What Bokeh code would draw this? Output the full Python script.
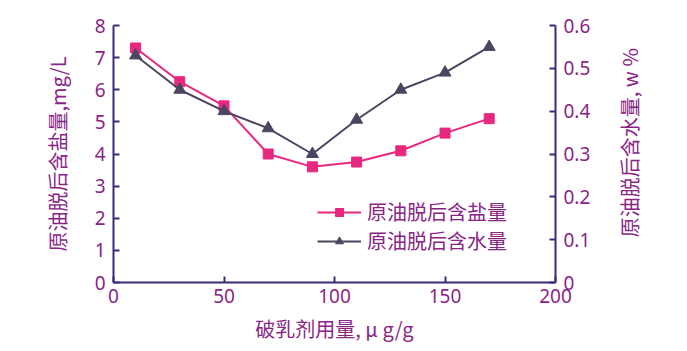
import math
from bokeh.plotting import figure
from bokeh.layouts import row
from bokeh.models import LinearAxis, Range1d, FixedTicker, Legend, LegendItem
from bokeh.core.properties import value
from bokeh.embed import file_html
from bokeh.resources import INLINE

dosage = [10, 30, 50, 70, 90, 110, 130, 150, 170]
salt = [7.3, 6.25, 5.5, 4.0, 3.6, 3.75, 4.1, 4.65, 5.1]
water = [0.53, 0.45, 0.40, 0.36, 0.30, 0.38, 0.45, 0.49, 0.55]
x_ticks = [0, 50, 100, 150, 200]
left_ticks = [0, 1, 2, 3, 4, 5, 6, 7, 8]
right_ticks = [0, 0.1, 0.2, 0.3, 0.4, 0.5, 0.6]
right_title = "原油脱后含水量, w  %"

PINK = "#E8287F"
DARK = "#4B4560"
AXIS = "#3B2A7A"
TXT = "#8A2586"
FONT = "Noto Sans"
CJK = "Noto Sans CJK SC"

p = figure(width=605, height=351, output_backend="svg", toolbar_location=None,
           x_range=Range1d(0, 200), y_range=Range1d(0, 8),
           min_border_left=113, min_border_right=50, min_border_top=25,
           min_border_bottom=69)
p.outline_line_color = None
p.xgrid.visible = False
p.ygrid.visible = False
p.extra_y_ranges = {"water": Range1d(0, 0.6)}

def style(ax):
    ax.axis_line_color = AXIS
    ax.axis_line_width = 2
    ax.major_tick_line_color = AXIS
    ax.major_tick_line_width = 2
    ax.major_tick_in = 6
    ax.major_tick_out = 0
    ax.minor_tick_line_color = None
    ax.major_label_text_color = TXT
    ax.major_label_text_font = FONT
    ax.major_label_text_font_size = "19px"
    ax.axis_label_text_color = TXT
    ax.axis_label_text_font = CJK
    ax.axis_label_text_font_size = "20px"
    ax.axis_label_text_font_style = "normal"

xa = p.xaxis[0]
style(xa)
xa.ticker = FixedTicker(ticks=x_ticks)
xa.axis_label = "破乳剂用量, μ g/g"
xa.major_label_standoff = 6
xa.axis_label_standoff = 8

ya = p.yaxis[0]
style(ya)
ya.ticker = FixedTicker(ticks=left_ticks)
ya.axis_label = "原油脱后含盐量,mg/L"
ya.major_label_standoff = 8
ya.axis_label_standoff = 20

ra = LinearAxis(y_range_name="water")
style(ra)
ra.ticker = FixedTicker(ticks=right_ticks)
ra.major_label_overrides = {0: "0"}
ra.major_label_standoff = 8
p.add_layout(ra, "right")

l1 = p.line(dosage, salt, line_color=PINK, line_width=2)
m1 = p.scatter(dosage, salt, marker="square", size=10, fill_color=PINK, line_color=PINK)
l2 = p.line(dosage, water, line_color=DARK, line_width=2, y_range_name="water")
m2 = p.scatter(dosage, water, marker="triangle", size=12, fill_color=DARK, line_color=DARK,
               y_range_name="water")

legend = Legend(items=[LegendItem(label="原油脱后含盐量", renderers=[l1, m1]),
                       LegendItem(label="原油脱后含水量", renderers=[l2, m2])],
                location=(204, 27))
legend.background_fill_alpha = 0
legend.border_line_color = None
legend.label_text_font = CJK
legend.label_text_font_size = "20px"
legend.label_text_color = TXT
legend.glyph_width = 44
legend.spacing = 0
legend.padding = 0
legend.margin = 0
legend.label_standoff = 6
p.add_layout(legend, "center")

# narrow side panel holding the right-hand axis title (reads bottom to top)
p2 = figure(width=82, height=351, output_backend="svg", toolbar_location=None,
            x_range=Range1d(0, 82), y_range=Range1d(0, 351),
            x_axis_location=None, y_axis_location=None, min_border=0)
p2.outline_line_color = None
p2.xgrid.visible = False
p2.ygrid.visible = False
p2.text(x=[24], y=[194], text=[right_title], angle=math.pi / 2,
        text_align="center", text_baseline="middle", text_color=TXT,
        text_font=value(CJK), text_font_size="20px")

layout = row(p, p2, spacing=0)
open("out.html", "w").write(file_html(layout, INLINE))
